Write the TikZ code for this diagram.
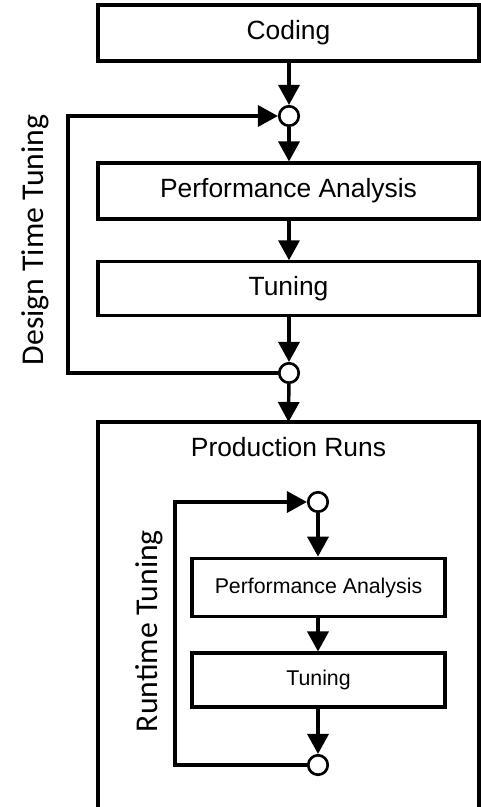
\documentclass[tikz,border=0pt]{standalone}
\usepackage{fontspec}
\setmainfont{Liberation Sans}
\newfontfamily\labelfont{Carlito}
\usetikzlibrary{arrows.meta}
\tikzset{
  boxbig/.style={draw, line width=2.3pt, minimum width=285.75pt, minimum height=42pt, inner sep=0pt, font=\fontsize{19.8}{22}\selectfont},
  boxsmall/.style={draw, line width=2.3pt, minimum width=189.75pt, minimum height=42pt, inner sep=0pt, font=\fontsize{16}{18}\selectfont},
  junc/.style={circle, draw, fill=white, line width=2pt, minimum size=14.6pt, inner sep=0pt},
  arr/.style={line width=2.6pt, -{Triangle[length=15pt, width=15.75pt]}},
  plain/.style={line width=2.6pt},
  looplabel/.style={font=\labelfont\fontsize{23.8}{26}\selectfont, rotate=90, anchor=base, inner sep=0pt}
}
\begin{document}
\begin{tikzpicture}[x=0.75pt,y=-0.75pt]
\useasboundingbox (0,0) rectangle (481,807);
\clip (0,0) rectangle (481,807);
% production box (open at the bottom)
\draw[line width=2.3pt] (98,830) -- (98,422) -- (479,422) -- (479,830);
\coordinate (prodtop) at (288.5,422);
\node[anchor=base, inner sep=0pt, font=\fontsize{19.8}{22}\selectfont] (prodlabel) at (288.5,456.5) {Production Runs};
% top flow
\node[boxbig] (coding) at (288.5,33) {Coding};
\node[junc] (c1) at (289,116) {};
\node[boxbig] (pa) at (288.5,191) {Performance Analysis};
\node[boxbig, minimum height=40pt] (tun) at (288.5,288.5) {Tuning};
\node[junc] (c2) at (289,373) {};
\coordinate (dl1) at (68,373);
\coordinate (dl2) at (68,116);
\draw[arr] (coding.south -| c1) -- (c1);
\draw[arr] (c1) -- (pa.north -| c1);
\draw[arr] (pa.south -| c1) -- (tun.north -| c1);
\draw[arr] (tun.south -| c1) -- (c2);
\draw[arr] (c2) -- (prodtop);
\draw[arr] (c2.west) -- (dl1) -- (dl2) -- (c1.west);
\node[looplabel] (dlab) at (43.5,240) {Design Time Tuning};
% inner flow
\node[junc] (c3) at (318,502) {};
\node[boxsmall, minimum height=44pt] (ipa) at (318.5,587.5) {Performance Analysis};
\node[boxsmall, minimum height=40.5pt] (itun) at (318.5,680) {Tuning};
\node[junc] (c4) at (318,765) {};
\coordinate (rl1) at (175,765);
\coordinate (rl2) at (175,502);
\draw[arr] (c3) -- (ipa.north -| c3);
\draw[arr] (ipa.south -| c3) -- (itun.north -| c3);
\draw[arr] (itun.south -| c3) -- (c4);
\draw[arr] (c4.west) -- (rl1) -- (rl2) -- (c3.west);
\node[looplabel] (rlab) at (157.5,631) {Runtime Tuning};
\end{tikzpicture}
\end{document}
